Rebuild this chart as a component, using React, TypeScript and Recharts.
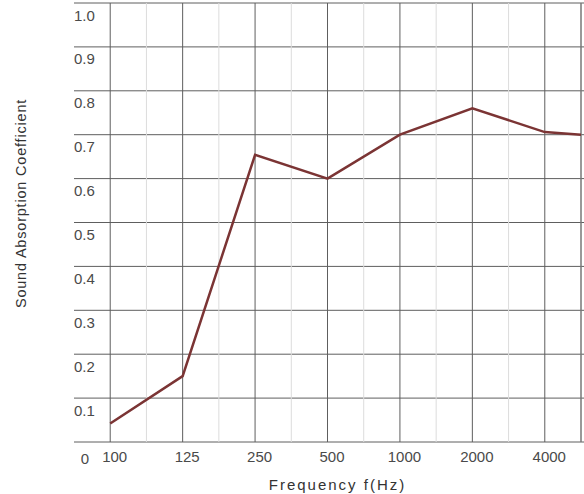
import React from 'react';
import { LineChart, Line, XAxis, YAxis, CartesianGrid, ReferenceLine } from 'recharts';

const frequencies = ['100', '125', '250', '500', '1000', '2000', '4000'];
const absorption = [0.042, 0.15, 0.654, 0.6, 0.7, 0.76, 0.706];
const edgeAbsorption = 0.7;
const yTicks = [0, 0.1, 0.2, 0.3, 0.4, 0.5, 0.6, 0.7, 0.8, 0.9, 1.0];
const yTickLabels = ['0', '0.1', '0.2', '0.3', '0.4', '0.5', '0.6', '0.7', '0.8', '0.9', '1.0'];
const xTitle = 'Frequency f(Hz)';
const yTitle = 'Sound Absorption Coefficient';

const data = [
  ...frequencies.map((f, i) => ({ pos: i, label: f, value: absorption[i] })),
  { pos: frequencies.length - 0.5, label: '', value: edgeAbsorption },
];
const xTicks = frequencies.map((_, i) => i);
const halfLines = frequencies.slice(0, -1).map((_, i) => i + 0.5);

const FONT = "'Liberation Sans', Arial, sans-serif";
const TEXT = '#4a4a4a';

const XTick = (props: any) => {
  const { x, y, payload } = props;
  return (
    <text x={x + 4.5} y={y + 12} textAnchor="middle" fontSize={15} fill={TEXT} fontFamily={FONT}>
      {frequencies[payload.value]}
    </text>
  );
};

const YTick = (props: any) => {
  const { x, y, payload, index } = props;
  const label = yTickLabels[index] ?? String(payload.value);
  if (payload.value === 0) {
    return (
      <text x={x + 11} y={y + 22} textAnchor="middle" fontSize={15} fill={TEXT} fontFamily={FONT}>
        {label}
      </text>
    );
  }
  return (
    <text x={x} y={y + 17.5} textAnchor="start" fontSize={15} fill={TEXT} fontFamily={FONT}>
      {label}
    </text>
  );
};

export default function App() {
  return (
    <div style={{ position: 'absolute', left: 0, top: 0, width: 584, height: 494, background: '#fff' }}>
      <LineChart width={584} height={494} data={data} margin={{ top: 3, right: 0, bottom: 0, left: 0 }}>
        <CartesianGrid stroke="#5e5e5e" strokeWidth={1} vertical={false} />
        {halfLines.map((h) => (
          <ReferenceLine key={'h' + h} x={h} stroke="#dcdcdc" strokeWidth={1} />
        ))}
        {xTicks.map((t) => (
          <ReferenceLine key={'t' + t} x={t} stroke="#5e5e5e" strokeWidth={1} />
        ))}
        <ReferenceLine x={frequencies.length - 0.5} stroke="#777" strokeWidth={1.5} />
        <XAxis
          type="number"
          dataKey="pos"
          domain={[-0.5, frequencies.length - 0.5 + 0.0414]}
          ticks={xTicks}
          interval={0}
          axisLine={false}
          tickLine={false}
          height={52}
          tick={<XTick />}
          allowDataOverflow
          label={{
            content: () => (
              <text x={337.5} y={490} textAnchor="middle" fontSize={15} fill="#333" fontFamily={FONT} letterSpacing={2}>
                {xTitle}
              </text>
            ),
          }}
        />
        <YAxis
          type="number"
          domain={[0, 1]}
          ticks={yTicks}
          interval={0}
          axisLine={false}
          tickLine={false}
          width={74}
          tick={(p: any) => <YTick {...p} x={74} />}
          label={{
            content: () => (
              <text
                x={26}
                y={203.5}
                textAnchor="middle"
                fontSize={14.5}
                fill="#333"
                fontFamily={FONT}
                letterSpacing={0.8}
                transform="rotate(-90 26 203.5)"
              >
                {yTitle}
              </text>
            ),
          }}
        />
        <Line
          type="linear"
          dataKey="value"
          stroke="#7b3434"
          strokeWidth={2.5}
          dot={false}
          isAnimationActive={false}
        />
      </LineChart>
    </div>
  );
}
